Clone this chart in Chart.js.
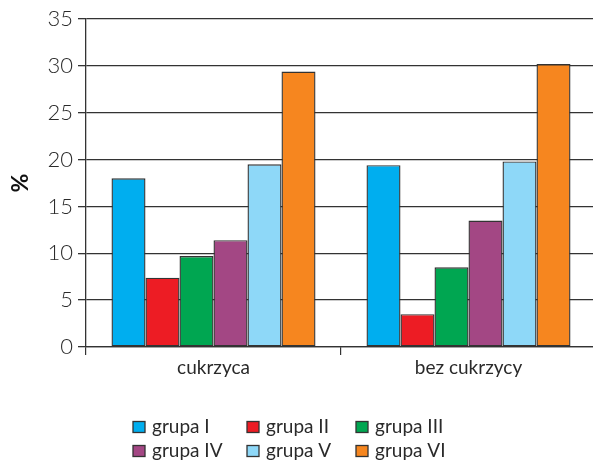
<!DOCTYPE html>
<html>
<head>
<meta charset="utf-8">
<script src="https://cdn.jsdelivr.net/npm/chart.js@4/dist/chart.umd.min.js"></script>
<style>
  html, body { margin: 0; padding: 0; background: #fff; overflow: hidden; }
  #wrap { position: relative; width: 600px; height: 463px; }
</style>
</head>
<body>
<div id="wrap"><canvas id="chart"></canvas></div>
<script>
// Share of patients per group, with and without diabetes (%)
const categories = ['cukrzyca', 'bez cukrzycy'];
const groupLabels = ['grupa I', 'grupa II', 'grupa III', 'grupa IV', 'grupa V', 'grupa VI'];
const grupaI   = [18.0, 19.4];
const grupaII  = [7.4, 3.5];
const grupaIII = [9.7, 8.5];
const grupaIV  = [11.4, 13.5];
const grupaV   = [19.5, 19.8];
const grupaVI  = [29.4, 30.2];
const yTicks = [0, 5, 10, 15, 20, 25, 30, 35];

const seriesValues = [grupaI, grupaII, grupaIII, grupaIV, grupaV, grupaVI];
const colors = ['#00AEEF', '#ED1C24', '#00A651', '#A34784', '#8ED8F8', '#F6861F'];
const fontFamily = "'Lato', 'Open Sans', sans-serif";
const ink = '#2a2a2a';

// Legend drawn as a 3-column grid below the plot
const gridLegend = {
  id: 'gridLegend',
  afterDraw(chart) {
    const ctx = chart.ctx;
    const colX = [133, 247, 356];
    const rowY = [427, 451];
    ctx.save();
    ctx.font = 'normal 19px ' + fontFamily;
    ctx.textBaseline = 'middle';
    ctx.textAlign = 'left';
    chart.data.datasets.forEach((ds, i) => {
      const x = colX[i % 3];
      const y = rowY[Math.floor(i / 3)];
      ctx.fillStyle = ds.backgroundColor;
      ctx.fillRect(x, y - 5.5, 12, 11);
      ctx.strokeStyle = '#333';
      ctx.lineWidth = 1.3;
      ctx.strokeRect(x, y - 5.5, 12, 11);
      ctx.fillStyle = ink;
      ctx.fillText(ds.label, x + 19, y);
    });
    ctx.restore();
  }
};

new Chart(document.getElementById('chart'), {
  type: 'bar',
  data: {
    labels: categories,
    datasets: seriesValues.map((vals, i) => ({
      label: groupLabels[i],
      data: vals,
      backgroundColor: colors[i],
      borderColor: '#333',
      borderWidth: 1.4,
      borderSkipped: false,
      categoryPercentage: 0.8,
      barPercentage: 1.0
    }))
  },
  options: {
    responsive: true,
    maintainAspectRatio: false,
    animation: false,
    layout: { padding: { top: 19, right: 4, bottom: 76, left: 0 } },
    plugins: {
      legend: { display: false },
      tooltip: { enabled: false }
    },
    scales: {
      x: {
        grid: {
          display: true,
          offset: true,
          drawOnChartArea: false,
          drawTicks: true,
          tickLength: 8,
          color: '#333',
          lineWidth: 1.2
        },
        border: { display: true, color: '#333', width: 1.3 },
        ticks: {
          color: ink,
          font: { family: fontFamily, size: 19, weight: 'normal' },
          padding: 1
        },
        afterFit(scale) { scale.height = 40; }
      },
      y: {
        min: 0,
        max: 35,
        afterBuildTicks(scale) { scale.ticks = yTicks.map(v => ({ value: v })); },
        grid: {
          color: '#333',
          lineWidth: 1.3,
          tickLength: 8,
          drawTicks: true
        },
        border: { display: true, color: '#333', width: 1.3 },
        ticks: {
          color: ink,
          font: { family: fontFamily, size: 22, weight: '300' },
          padding: 5
        },
        title: {
          display: true,
          text: '%',
          color: '#111',
          font: { family: fontFamily, size: 23, weight: 'bold' },
          padding: { top: 7, bottom: 0 }
        },
        afterFit(scale) { scale.width = 86; }
      }
    }
  },
  plugins: [gridLegend]
});
</script>
</body>
</html>
